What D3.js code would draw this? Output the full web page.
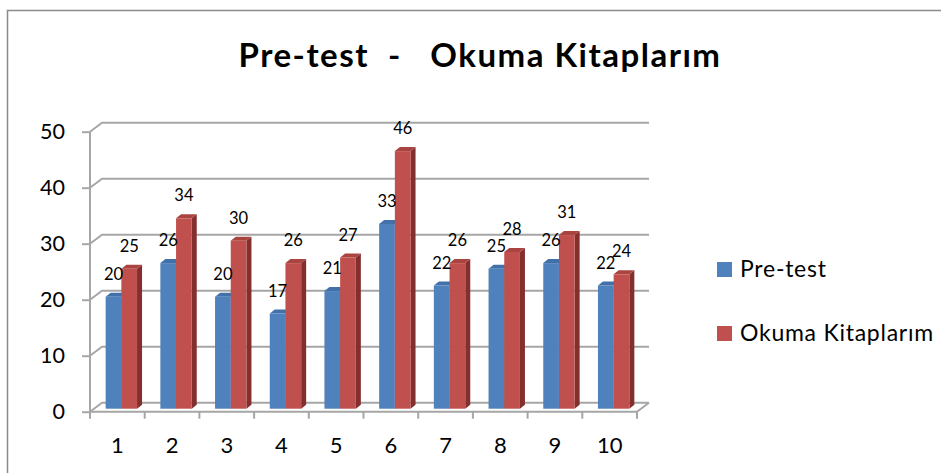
<!DOCTYPE html>
<html>
<head>
<meta charset="utf-8">
<script src="https://cdn.jsdelivr.net/npm/d3@7"></script>
<style>
	body { margin: 0; background: #fff; }
	svg { display: block; font-family: Lato, 'Open Sans', sans-serif; }
</style>
</head>
<body>
<svg id="chart" width="941" height="473"></svg>
<script>
const categories = ['1', '2', '3', '4', '5', '6', '7', '8', '9', '10']
const seriesNames = ['Pre-test', 'Okuma Kitaplarım']
const preTest = [20, 26, 20, 17, 21, 33, 22, 25, 26, 22]
const okuma = [25, 34, 30, 26, 27, 46, 26, 28, 31, 24]
const yTicks = [0, 10, 20, 30, 40, 50]
const title = 'Pre-test  -   Okuma Kitaplarım'

const colors = {
	front: ['#4f81bd', '#c0504d'],
	top: ['#4271a9', '#aa4441'],
	side: ['#335a88', '#832f2d'],
}

// depth of the walls, and of the bars inside them
const wallDx = 12, wallDy = -9
const barDx = 4, barDy = -3
const sideDx = 5, sideDy = -4
const gridColor = '#a6a6a6'

let svg = d3.select('#chart')

let x = d3.scaleBand().domain(categories).range([90, 637]).padding(0)
let y = d3.scaleLinear().domain([0, 50]).range([411.7, 131.7])
let barW = 15.7
let x1 = d3.scaleBand().domain(seriesNames).range([0, barW * 2])
let inset = (x.bandwidth() - barW * 2) / 2

// chart frame
svg.append('path')
	.attr('d', 'M7.5,473 V10.5 H941')
	.attr('fill', 'none')
	.attr('stroke', '#8a8a8a')
	.attr('stroke-width', 1.5)

svg.append('text')
	.attr('x', 480)
	.attr('y', 67)
	.attr('text-anchor', 'middle')
	.attr('font-size', 33)
	.attr('font-weight', 'bold')
	.attr('letter-spacing', 1.5)
	.style('white-space', 'pre')
	.text(title)

// back wall gridlines and side wall diagonals
let walls = svg.append('g').attr('stroke', gridColor).attr('stroke-width', 2).attr('fill', 'none')
let x0 = x.range()[0], xEnd = x.range()[1]
yTicks.forEach(t => {
	walls.append('path')
		.attr('d', `M${x0},${y(t)} L${x0 + wallDx},${y(t) + wallDy} H${xEnd + wallDx}`)
})
walls.append('path')
	.attr('d', `M${xEnd + wallDx},${y(0) + wallDy} L${xEnd},${y(0)}`)

// bars
let rows = categories.map((c, i) => ({ cat: c, values: [preTest[i], okuma[i]] }))
let groups = svg.append('g').selectAll('g')
	.data(rows)
	.join('g')

groups.each(function (d) {
	let g = d3.select(this)
	d.values.forEach((v, s) => {
		let bx = x(d.cat) + inset + x1(seriesNames[s]) + barDx
		let top = y(v) + barDy
		let bottom = y(0) + barDy
		g.append('path')
			.attr('d', `M${bx + barW},${top} L${bx + barW + sideDx},${top + sideDy} V${bottom + sideDy} L${bx + barW},${bottom}Z`)
			.attr('fill', colors.side[s])
		g.append('path')
			.attr('d', `M${bx},${top} L${bx + sideDx},${top + sideDy} H${bx + barW + sideDx} L${bx + barW},${top}Z`)
			.attr('fill', colors.top[s])
		g.append('rect')
			.attr('x', bx)
			.attr('y', top)
			.attr('width', barW)
			.attr('height', bottom - top)
			.attr('fill', colors.front[s])
	})
})

// value labels
groups.each(function (d) {
	let g = d3.select(this)
	d.values.forEach((v, s) => {
		let bx = x(d.cat) + inset + x1(seriesNames[s]) + barDx
		g.append('text')
			.attr('x', bx + barW / 2)
			.attr('y', y(v) + barDy - 17)
			.attr('text-anchor', 'middle')
			.attr('font-size', 16.5)
			.attr('fill', '#000')
			.text(v)
	})
})

// front axes
let axisG = svg.append('g').attr('stroke', gridColor).attr('stroke-width', 2).attr('fill', 'none')
axisG.append('path').attr('d', `M${x0},${y(50)} V${y(0) + 7} M${x0},${y(0)} H${xEnd}`)
categories.forEach(c => {
	axisG.append('path').attr('d', `M${x(c) + x.bandwidth()},${y(0)} v7`)
})

let leftAxis = d3.axisLeft(y).tickValues(yTicks).tickSize(8).tickPadding(17)
let leftAxisG = svg.append('g').attr('transform', `translate(${x0},0)`).call(leftAxis)
leftAxisG.select('.domain').remove()
leftAxisG.selectAll('line').attr('stroke', gridColor).attr('stroke-width', 2)
leftAxisG.selectAll('text').attr('font-size', 21.5).attr('font-family', 'Lato, sans-serif').attr('fill', '#000')

let bottomAxis = d3.axisBottom(x).tickSize(0).tickPadding(26)
let bottomAxisG = svg.append('g').attr('transform', `translate(0,${y(0)})`).call(bottomAxis)
bottomAxisG.select('.domain').remove()
bottomAxisG.selectAll('text').attr('font-size', 22).attr('font-family', 'Lato, sans-serif').attr('fill', '#000')

// legend
let legend = svg.append('g').selectAll('g')
	.data(seriesNames)
	.join('g')
	.attr('transform', (d, i) => `translate(717,${262 + i * 64})`)
legend.append('rect')
	.attr('width', 15)
	.attr('height', 15)
	.attr('fill', (d, i) => colors.front[i])
legend.append('text')
	.attr('x', 23)
	.attr('y', 15)
	.attr('font-size', 23)
	.attr('letter-spacing', 0.75)
	.attr('fill', '#000')
	.text(d => d)
</script>
</body>
</html>
